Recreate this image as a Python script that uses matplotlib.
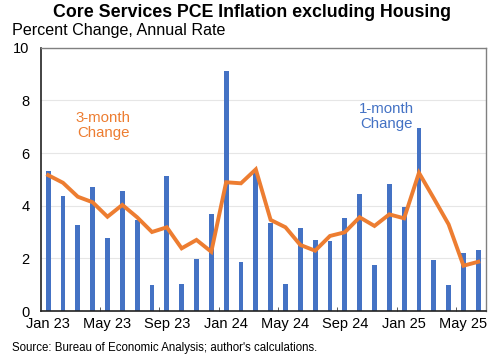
import matplotlib.pyplot as plt
import numpy as np

plt.rcParams['font.family'] = ['Liberation Sans', 'DejaVu Sans']

months = ['Jan 23', 'Feb 23', 'Mar 23', 'Apr 23', 'May 23', 'Jun 23', 'Jul 23', 'Aug 23',
          'Sep 23', 'Oct 23', 'Nov 23', 'Dec 23', 'Jan 24', 'Feb 24', 'Mar 24', 'Apr 24',
          'May 24', 'Jun 24', 'Jul 24', 'Aug 24', 'Sep 24', 'Oct 24', 'Nov 24', 'Dec 24',
          'Jan 25', 'Feb 25', 'Mar 25', 'Apr 25', 'May 25', 'Jun 25']

# 1-month change, annual rate
one_month = [5.32, 4.37, 3.27, 4.71, 2.77, 4.57, 3.44, 0.97, 5.14, 1.03, 1.96, 3.68,
             9.11, 1.87, 5.23, 3.33, 1.01, 3.14, 2.70, 2.66, 3.52, 4.44, 1.75, 4.84,
             3.96, 6.95, 1.95, 0.97, 2.22, 2.33]

# 3-month change, annual rate
three_month = [5.16, 4.87, 4.34, 4.13, 3.58, 4.03, 3.56, 3.00, 3.18, 2.38, 2.70, 2.25,
               4.89, 4.85, 5.38, 3.46, 3.18, 2.51, 2.29, 2.85, 2.99, 3.56, 3.23, 3.67,
               3.52, 5.25, 4.28, 3.29, 1.72, 1.87]

blue = '#4472C4'
orange = '#ED7D31'

x = np.arange(len(months))

fig = plt.figure(figsize=(5.04, 3.6), dpi=100)
ax = fig.add_axes([0.0808, 0.1361, 0.8829, 0.7314])

ax.bar(x, one_month, width=0.33, color=blue, zorder=2)
ax.plot(x, three_month, color=orange, lw=2.8, zorder=3, solid_joinstyle='miter')

ax.set_xlim(-0.5, len(months) - 0.5)
ax.set_ylim(0, 10)
ax.set_yticks([0, 2, 4, 6, 8, 10])
ax.yaxis.grid(True, color='#e6e6e6', lw=0.8, zorder=0)
ax.tick_params(axis='y', length=0, labelsize=10.5, pad=8)

ax.set_xticks(x[::4])
ax.set_xticklabels(months[::4])
ax.set_xticks(np.arange(3.5, len(months), 4), minor=True)
ax.tick_params(axis='x', which='major', length=0, labelsize=10.5, pad=4)
ax.tick_params(axis='x', which='minor', direction='in', length=3, color='#404040')

for s in ['left', 'bottom']:
    ax.spines[s].set_color('#222222')
    ax.spines[s].set_linewidth(1.2)
for s in ['top', 'right']:
    ax.spines[s].set_color('#808080')
    ax.spines[s].set_linewidth(1.0)

ax.text(3.7, 7.05, '3-month\nChange', color=orange, fontsize=10.8, ha='center', va='center',
        linespacing=1.1)
ax.text(22.8, 7.4, '1-month\nChange', color=blue, fontsize=10.8, ha='center', va='center',
        linespacing=1.1)

fig.text(0.5, 0.965, 'Core Services PCE Inflation excluding Housing', ha='center', va='center',
         fontsize=12.8, fontweight='bold')
fig.text(0.024, 0.915, 'Percent Change, Annual Rate', ha='left', va='center', fontsize=11.6)
fig.text(0.024, 0.033, "Source: Bureau of Economic Analysis; author's calculations.",
         ha='left', va='center', fontsize=8.3)

fig.savefig('out.png', dpi=100)
